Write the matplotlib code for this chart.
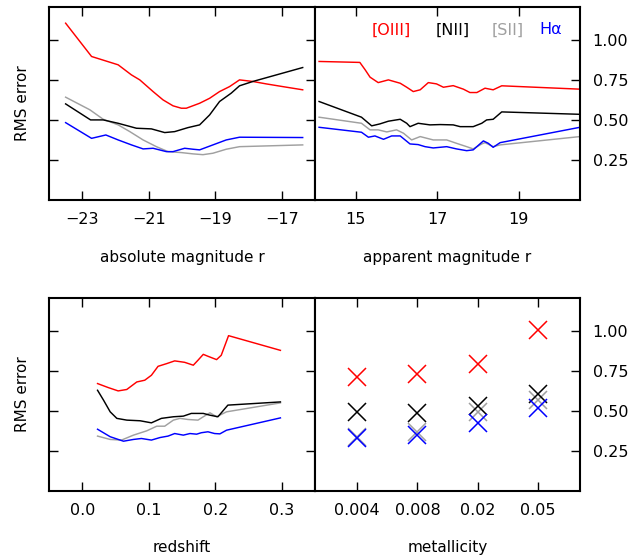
import matplotlib
matplotlib.use("Agg")
import matplotlib.pyplot as plt

# ---- RMS error vs absolute magnitude r ----
absmag_oiii_x = [-23.5, -22.72, -21.92, -21.52, -21.27, -20.87, -20.57, -20.27, -20.02, -19.87,
                 -19.47, -19.17, -18.87, -18.57, -18.27, -17.87, -17.47, -16.97, -16.37]
absmag_oiii_y = [1.104, 0.896, 0.844, 0.781, 0.75, 0.677, 0.625, 0.588, 0.573, 0.573,
                 0.604, 0.635, 0.677, 0.708, 0.75, 0.74, 0.725, 0.708, 0.688]
absmag_nii_x = [-23.5, -22.75, -22.37, -21.92, -21.37, -20.92, -20.52, -20.22, -19.82, -19.47,
                -19.17, -18.87, -18.52, -18.27, -17.87, -16.37]
absmag_nii_y = [0.60, 0.50, 0.50, 0.479, 0.448, 0.444, 0.421, 0.427, 0.452, 0.469,
                0.531, 0.615, 0.667, 0.713, 0.74, 0.827]
absmag_sii_x = [-23.5, -22.77, -22.37, -21.92, -21.57, -21.17, -20.77, -20.42, -20.02, -19.67,
                -19.37, -19.07, -18.67, -18.27, -16.37]
absmag_sii_y = [0.642, 0.563, 0.504, 0.469, 0.427, 0.375, 0.333, 0.302, 0.296, 0.288,
                0.283, 0.292, 0.317, 0.333, 0.344]
absmag_ha_x = [-23.5, -22.72, -22.29, -21.92, -21.52, -21.17, -20.87, -20.47, -20.27, -19.92,
               -19.67, -19.47, -19.07, -18.67, -18.27, -16.37]
absmag_ha_y = [0.483, 0.385, 0.406, 0.375, 0.344, 0.319, 0.323, 0.302, 0.302, 0.323,
               0.317, 0.313, 0.344, 0.375, 0.392, 0.39]

# ---- RMS error vs apparent magnitude r ----
appmag_oiii_x = [14.1, 15.10, 15.23, 15.35, 15.55, 15.80, 16.09, 16.25, 16.41, 16.58, 16.78,
                 16.98, 17.15, 17.39, 17.64, 17.80, 17.97, 18.17, 18.37, 18.58, 20.5]
appmag_oiii_y = [0.865, 0.859, 0.813, 0.767, 0.733, 0.75, 0.729, 0.704, 0.677, 0.688, 0.733,
                 0.725, 0.704, 0.714, 0.692, 0.671, 0.671, 0.698, 0.688, 0.713, 0.692]
appmag_nii_x = [14.1, 15.14, 15.39, 15.59, 15.80, 16.09, 16.25, 16.33, 16.53, 16.82, 17.07,
                17.39, 17.56, 17.88, 18.09, 18.21, 18.37, 18.58, 20.5]
appmag_nii_y = [0.615, 0.517, 0.463, 0.475, 0.492, 0.504, 0.479, 0.458, 0.479, 0.469, 0.471,
                0.469, 0.458, 0.458, 0.479, 0.50, 0.504, 0.55, 0.535]
appmag_sii_x = [14.1, 15.14, 15.35, 15.55, 15.76, 16.0, 16.17, 16.37, 16.58, 16.90, 17.23,
                17.47, 17.72, 17.88, 18.09, 18.17, 18.37, 18.54, 20.5]
appmag_sii_y = [0.517, 0.479, 0.438, 0.438, 0.425, 0.438, 0.417, 0.375, 0.396, 0.375, 0.375,
                0.354, 0.333, 0.319, 0.35, 0.358, 0.333, 0.344, 0.396]
appmag_ha_x = [14.1, 15.14, 15.31, 15.47, 15.68, 15.88, 16.09, 16.33, 16.53, 16.70, 16.90,
               17.23, 17.47, 17.72, 17.88, 18.13, 18.25, 18.37, 18.54, 20.5]
appmag_ha_y = [0.454, 0.423, 0.392, 0.40, 0.379, 0.40, 0.40, 0.35, 0.346, 0.333, 0.325,
               0.333, 0.319, 0.308, 0.313, 0.369, 0.354, 0.329, 0.358, 0.454]

# ---- RMS error vs redshift ----
z_oiii_x = [0.023, 0.039, 0.054, 0.067, 0.082, 0.094, 0.104, 0.114, 0.127, 0.139, 0.154,
            0.167, 0.174, 0.182, 0.189, 0.202, 0.209, 0.22, 0.298]
z_oiii_y = [0.671, 0.646, 0.625, 0.634, 0.681, 0.692, 0.723, 0.779, 0.796, 0.813, 0.804,
            0.786, 0.817, 0.854, 0.842, 0.821, 0.848, 0.971, 0.879]
z_nii_x = [0.023, 0.032, 0.042, 0.052, 0.067, 0.087, 0.104, 0.119, 0.137, 0.152, 0.164,
           0.182, 0.192, 0.204, 0.219, 0.298]
z_nii_y = [0.629, 0.567, 0.494, 0.453, 0.442, 0.438, 0.425, 0.453, 0.463, 0.467, 0.484,
           0.484, 0.473, 0.463, 0.536, 0.556]
z_sii_x = [0.023, 0.042, 0.059, 0.077, 0.097, 0.112, 0.124, 0.137, 0.147, 0.159, 0.174,
           0.182, 0.192, 0.202, 0.217, 0.298]
z_sii_y = [0.342, 0.321, 0.317, 0.348, 0.375, 0.404, 0.404, 0.442, 0.453, 0.446, 0.442,
           0.463, 0.488, 0.463, 0.494, 0.55]
z_ha_x = [0.023, 0.042, 0.062, 0.077, 0.089, 0.104, 0.117, 0.129, 0.139, 0.152, 0.162,
          0.172, 0.179, 0.189, 0.199, 0.207, 0.217, 0.298]
z_ha_y = [0.385, 0.338, 0.31, 0.321, 0.327, 0.317, 0.333, 0.342, 0.358, 0.348, 0.358,
          0.354, 0.363, 0.369, 0.358, 0.356, 0.379, 0.456]

# ---- RMS error vs metallicity ----
metallicity = ["0.004", "0.008", "0.02", "0.05"]
met_oiii = [0.713, 0.733, 0.796, 1.004]
met_nii = [0.494, 0.484, 0.529, 0.604]
met_sii = [0.338, 0.369, 0.494, 0.567]
met_ha = [0.333, 0.348, 0.421, 0.515]

names = ["[OIII]", "[NII]", "[SII]", "H\u03b1"]
colors = ["#ff0000", "#000000", "#a0a0a0", "#0000ff"]

plt.rcParams["font.family"] = "DejaVu Sans"
plt.rcParams["font.size"] = 11.5

fig = plt.figure(figsize=(6.4, 5.59), dpi=100)
W, H = 640.0, 559.0


def make_ax(x0, x1, y0, y1):
    return fig.add_axes([x0 / W, 1 - y1 / H, (x1 - x0) / W, (y1 - y0) / H])


ax_abs = make_ax(49, 315, 7, 200)
ax_app = make_ax(315, 580, 7, 200)
ax_z = make_ax(49, 315, 298.3, 490.7)
ax_met = make_ax(315, 580, 298.3, 490.7)

lw = 1.05
order = [0, 2, 1, 3]  # draw grey beneath black


def draw_lines(ax, xs_list, ys_list):
    for i in order:
        ax.plot(xs_list[i], ys_list[i], color=colors[i], lw=lw)


draw_lines(ax_abs, [absmag_oiii_x, absmag_nii_x, absmag_sii_x, absmag_ha_x],
           [absmag_oiii_y, absmag_nii_y, absmag_sii_y, absmag_ha_y])
draw_lines(ax_app, [appmag_oiii_x, appmag_nii_x, appmag_sii_x, appmag_ha_x],
           [appmag_oiii_y, appmag_nii_y, appmag_sii_y, appmag_ha_y])
draw_lines(ax_z, [z_oiii_x, z_nii_x, z_sii_x, z_ha_x],
           [z_oiii_y, z_nii_y, z_sii_y, z_ha_y])

pos = list(range(len(metallicity)))
met_vals = [met_oiii, met_nii, met_sii, met_ha]
for i in order:
    ax_met.plot(pos, met_vals[i], ls="none", marker="x", ms=12.5, mew=1.1, color=colors[i])

ax_abs.set_xlim(-24, -16)
ax_abs.set_xticks([-23, -21, -19, -17])
ax_app.set_xlim(14, 20.5)
ax_app.set_xticks([15, 17, 19])
ax_z.set_xlim(-0.05, 0.35)
ax_z.set_xticks([0.0, 0.1, 0.2, 0.3])
ax_z.set_xticklabels(["0.0", "0.1", "0.2", "0.3"])
ax_met.set_xlim(-0.7, 3.7)
ax_met.set_xticks(pos)
ax_met.set_xticklabels(metallicity)

yt = [0.25, 0.5, 0.75, 1.0]
for ax in (ax_abs, ax_app, ax_z, ax_met):
    ax.set_ylim(0, 1.205)
    ax.set_yticks(yt)
    for s in ax.spines.values():
        s.set_linewidth(1.5)
    ax.tick_params(direction="in", length=6.5, width=1.0, top=True, bottom=True, pad=9)

for ax in (ax_abs, ax_z):
    ax.tick_params(axis="y", left=True, right=True, labelleft=False, labelright=False)
    ax.set_ylabel("RMS error", labelpad=14, fontsize=11)
for ax in (ax_app, ax_met):
    ax.tick_params(axis="y", left=False, right=True, labelleft=False, labelright=True)

ax_abs.set_xlabel("absolute magnitude r", labelpad=16, fontsize=11)
ax_app.set_xlabel("apparent magnitude r", labelpad=16, fontsize=11)
ax_z.set_xlabel("redshift", labelpad=16, fontsize=11)
ax_met.set_xlabel("metallicity", labelpad=16, fontsize=11)

# text-only key in the top right panel
for label, c, xp in zip(names, colors, [391.7, 453, 508, 551]):
    fig.text(xp / W, 1 - 30 / H, label, color=c, ha="center", va="center", fontsize=11.5)

fig.savefig("out.png", dpi=100)
